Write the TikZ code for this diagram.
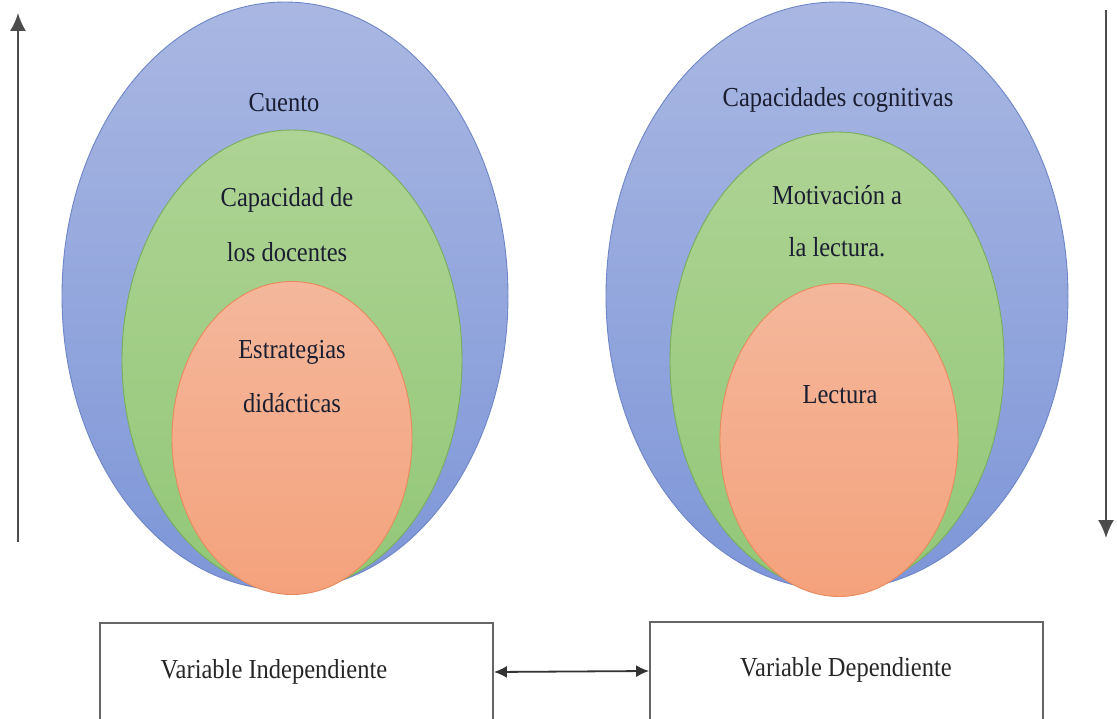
\documentclass[tikz,border=0pt]{standalone}
\usepackage{fontspec}
\setmainfont{Liberation Serif}
\usetikzlibrary{shapes.geometric,arrows.meta}
\definecolor{blueT}{HTML}{A9B7E2}
\definecolor{blueB}{HTML}{7E96D8}
\definecolor{blueL}{HTML}{6E86C6}
\definecolor{greenT}{HTML}{AED394}
\definecolor{greenB}{HTML}{92C777}
\definecolor{greenL}{HTML}{78AE5C}
\definecolor{orT}{HTML}{F4B79B}
\definecolor{orB}{HTML}{F4A27C}
\definecolor{orL}{HTML}{E98A5E}
\definecolor{txt}{HTML}{1A1E30}
\tikzset{
  ell/.style={ellipse, inner sep=0pt, line width=0.9pt},
  blueell/.style={ell, top color=blueT, bottom color=blueB, draw=blueL},
  greenell/.style={ell, top color=greenT, bottom color=greenB, draw=greenL},
  orell/.style={ell, top color=orT, bottom color=orB, draw=orL},
  lbl/.style={font=\fontsize{24.5}{28}\selectfont, text=txt, inner sep=0pt, yscale=1.12},
  varbox/.style={draw=black!60, line width=1.8pt, minimum width=393pt, minimum height=98pt, inner sep=0pt},
  vline/.style={line width=2pt, draw=black!70, -{Latex[length=18pt,width=16pt]}},
}
\begin{document}
\begin{tikzpicture}[x=1pt,y=-1pt]
\useasboundingbox (0,0) rectangle (1117,719);
\clip (0,0) rectangle (1117,719);
% left ellipses
\node[blueell, minimum width=446pt, minimum height=588pt] (lb) at (285,296) {};
\node[greenell, minimum width=340pt, minimum height=460pt] (lg) at (292,360) {};
\node[orell, minimum width=240pt, minimum height=313pt] (lo) at (292,438) {};
% right ellipses
\node[blueell, minimum width=462pt, minimum height=588pt] (rb) at (837,296) {};
\node[greenell, minimum width=334pt, minimum height=458pt] (rg) at (837,361) {};
\node[orell, minimum width=238pt, minimum height=313pt] (ro) at (839,440) {};
% labels
\node[lbl] (t1) at (284,103) {Cuento};
\node[lbl] (t2) at (287,200) {Capacidad de};
\node[lbl] (t3) at (287,252) {los docentes};
\node[lbl] (t4) at (292,352) {Estrategias};
\node[lbl] (t5) at (292,403) {didácticas};
\node[lbl] (t6) at (838,100) {Capacidades cognitivas};
\node[lbl] (t7) at (837,195) {Motivación a};
\node[lbl] (t8) at (837,247) {la lectura.};
\node[lbl] (t9) at (840,395) {Lectura};
% side arrows
\coordinate (la0) at (18,542);
\coordinate (la1) at (18,13);
\coordinate (ra0) at (1106,10);
\coordinate (ra1) at (1106,538);
\draw[vline] (la0) -- (la1);
\draw[vline] (ra0) -- (ra1);
% boxes
\node[varbox] (vi) at (296.5,672) {};
\node[varbox] (vd) at (846.5,671) {};
\node[lbl, text=black!85] (vit) at (274,672) {Variable Independiente};
\node[lbl, text=black!85] (vdt) at (846,670) {Variable Dependiente};
\draw[line width=1.8pt, draw=black!80, {Latex[length=13pt,width=12pt]}-{Latex[length=13pt,width=12pt]}] (vi.east) -- (vd.west);
\end{tikzpicture}
\end{document}
